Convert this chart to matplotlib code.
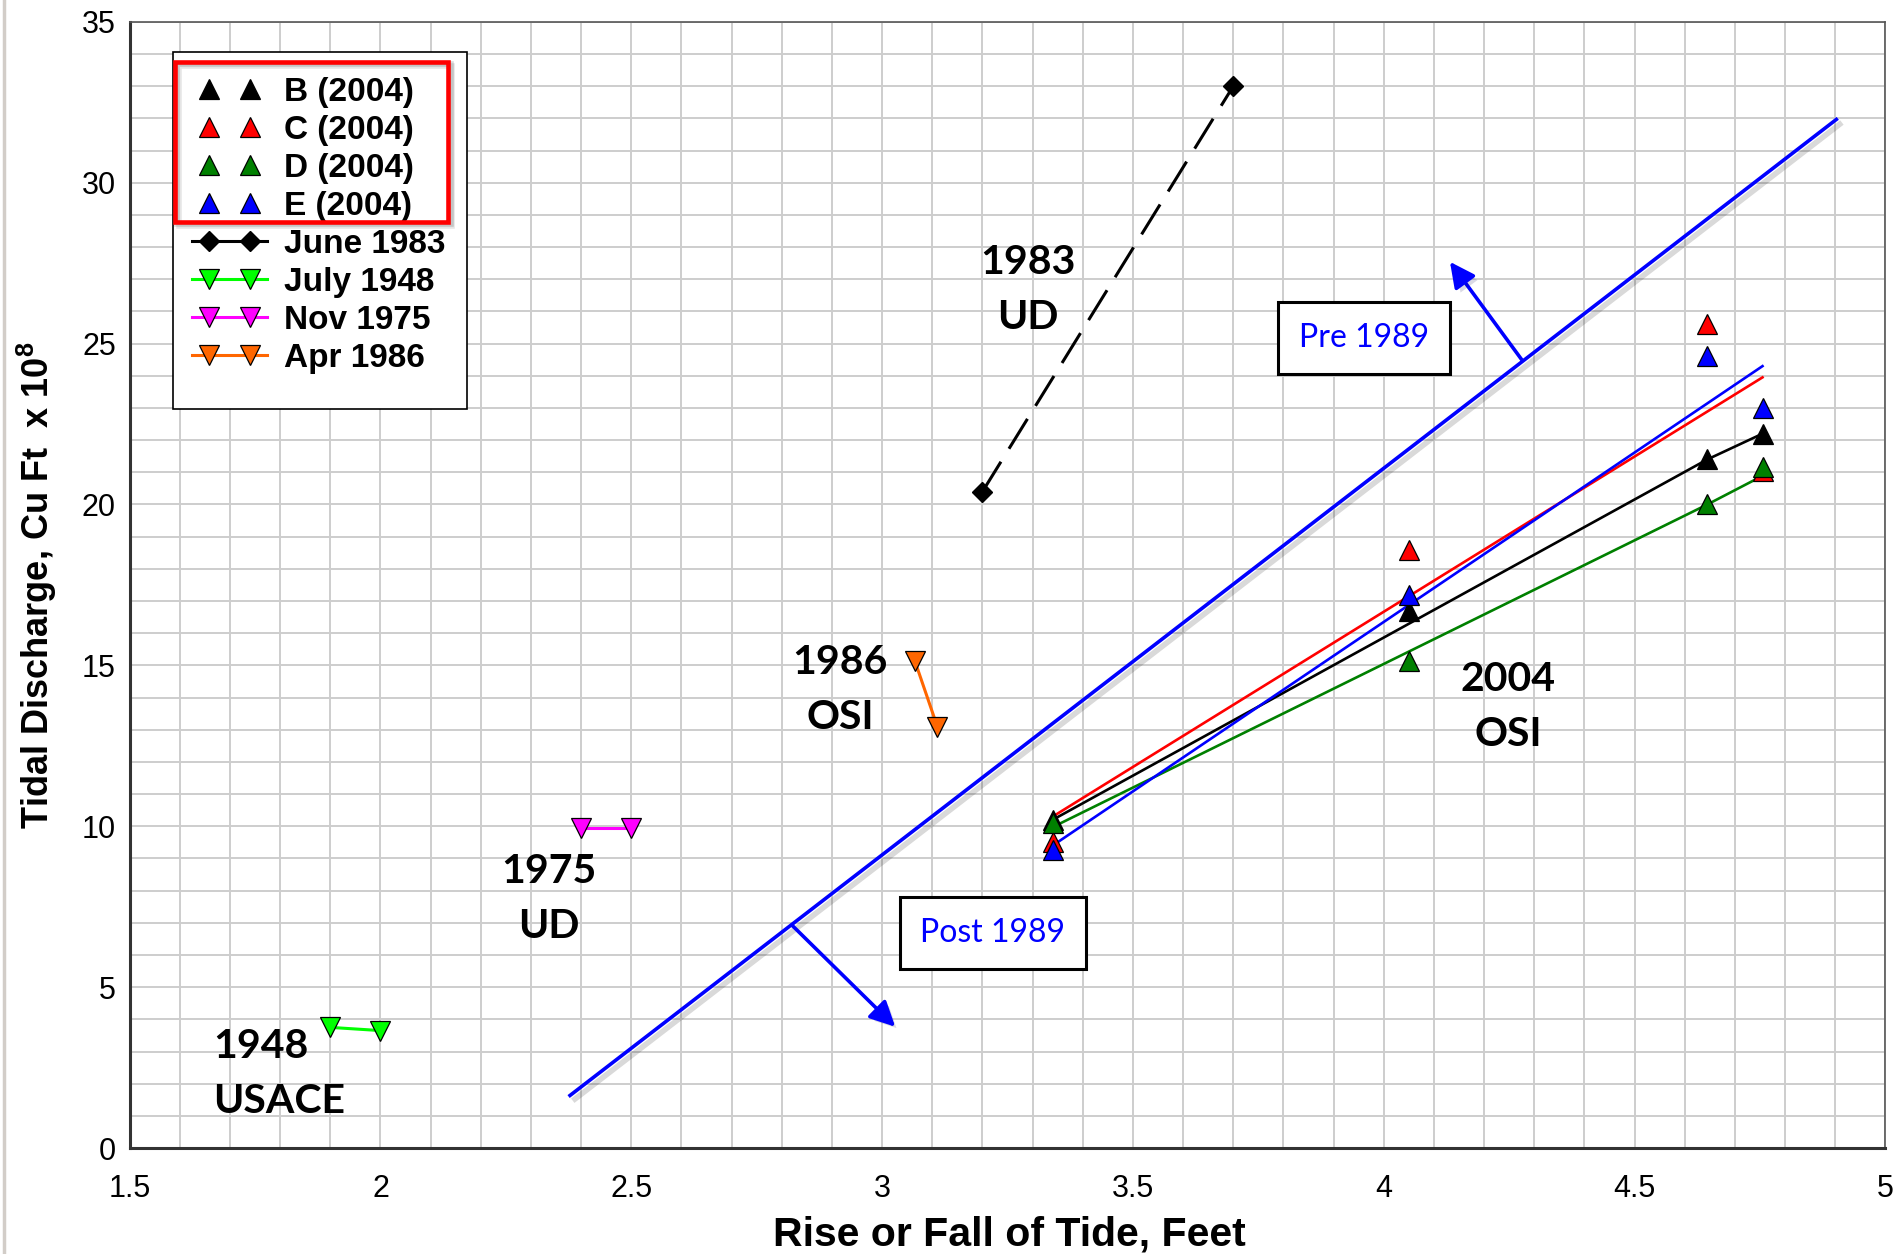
import matplotlib
matplotlib.use('Agg')
import matplotlib.pyplot as plt
from matplotlib.lines import Line2D
from matplotlib.patches import Rectangle
from matplotlib.legend_handler import HandlerLine2D
from matplotlib.ticker import MultipleLocator, FuncFormatter
import matplotlib.patheffects as pe

# ---------------- data ----------------
tide_2004 = [3.34, 4.05, 4.645, 4.755]
B_2004 = [10.2, 16.7, 21.4, 22.2]
C_2004 = [9.5, 18.6, 25.6, 21.05]
D_2004 = [10.1, 15.15, 20.0, 21.15]
E_2004 = [9.25, 17.2, 24.6, 23.0]

B_fit_x = [3.34, 4.645, 4.755]
B_fit_y = [10.2, 21.4, 22.2]
C_fit_x = [3.34, 4.755]
C_fit_y = [10.3, 23.95]
D_fit_x = [3.35, 4.645, 4.75]
D_fit_y = [10.05, 20.0, 20.85]
E_fit_x = [3.34, 4.755]
E_fit_y = [9.4, 24.3]

june1983_x = [3.2, 3.7]
june1983_y = [20.4, 33.0]
july1948_x = [1.9, 2.0]
july1948_y = [3.75, 3.65]
nov1975_x = [2.4, 2.5]
nov1975_y = [9.95, 9.95]
apr1986_x = [3.065, 3.11]
apr1986_y = [15.15, 13.1]

boundary_x = [2.375, 4.905]
boundary_y = [1.6, 32.0]

x_ticks = [1.5, 2, 2.5, 3, 3.5, 4, 4.5, 5]
y_ticks = [0, 5, 10, 15, 20, 25, 30, 35]

legend_labels = ['B (2004)', 'C (2004)', 'D (2004)', 'E (2004)',
                 'June 1983', 'July 1948', 'Nov 1975', 'Apr 1986']

# ---------------- styling ----------------
RED = '#ff0000'
BLUE = '#0000ff'
DGREEN = '#008000'
LIME = '#00ff00'
MAG = '#ff00ff'
ORANGE = '#ff6600'

plt.rcParams['mathtext.fontset'] = 'custom'
plt.rcParams['mathtext.bf'] = 'Liberation Sans:bold'
plt.rcParams['mathtext.rm'] = 'Liberation Sans:bold'

fig = plt.figure(figsize=(19.01, 12.54), dpi=100, facecolor='white')
ax = fig.add_axes([0.0682, 0.0845, 0.9236, 0.8981])
ax.set_xlim(1.5, 5)
ax.set_ylim(0, 35)

ax.xaxis.set_minor_locator(MultipleLocator(0.1))
ax.yaxis.set_minor_locator(MultipleLocator(1))
ax.set_xticks(x_ticks)
ax.set_yticks(y_ticks)
ax.xaxis.set_major_formatter(FuncFormatter(lambda v, p: '%g' % v))
ax.yaxis.set_major_formatter(FuncFormatter(lambda v, p: '%g' % v))
ax.grid(which='both', color='#cdcdcd', lw=1.4, zorder=0)
ax.set_axisbelow(True)
ax.tick_params(which='both', length=0)
ax.tick_params(axis='x', labelsize=22, pad=19)
ax.tick_params(axis='y', labelsize=22, pad=10)
for lab in ax.get_xticklabels() + ax.get_yticklabels():
    lab.set_fontfamily('Liberation Sans')
for s in ['top', 'right']:
    ax.spines[s].set_color('#555555')
    ax.spines[s].set_linewidth(1.2)
for s in ['left', 'bottom']:
    ax.spines[s].set_color('#333333')
    ax.spines[s].set_linewidth(2.2)

shadow = [pe.SimpleLineShadow(offset=(3, -3), shadow_color='black', alpha=0.15, linewidth=4),
          pe.Normal()]

# boundary line
ax.plot(boundary_x, boundary_y, color=BLUE, lw=2.6, zorder=3, path_effects=shadow,
        solid_capstyle='butt')

# arrows
arrow_kw = dict(arrowstyle='-|>', color=BLUE, lw=2.6, mutation_scale=38,
                shrinkA=0, shrinkB=0)
ax.annotate('', xy=(4.132, 27.54), xytext=(4.275, 24.5),
            arrowprops=dict(**arrow_kw,
                            path_effects=[pe.SimplePatchShadow(offset=(3, -3), alpha=0.15),
                                          pe.Normal()]), zorder=3)
ax.annotate('', xy=(3.026, 3.77), xytext=(2.820, 6.93),
            arrowprops=dict(**arrow_kw,
                            path_effects=[pe.SimplePatchShadow(offset=(3, -3), alpha=0.15),
                                          pe.Normal()]), zorder=3)

# fit lines 2004
ax.plot(B_fit_x, B_fit_y, color='black', lw=1.9, zorder=3)
ax.plot(C_fit_x, C_fit_y, color=RED, lw=1.9, zorder=3)
ax.plot(D_fit_x, D_fit_y, color=DGREEN, lw=1.9, zorder=3)
ax.plot(E_fit_x, E_fit_y, color=BLUE, lw=1.9, zorder=3)

tri_kw = dict(ls='none', marker='^', ms=15, mec='black', mew=0.9, zorder=4)
ax.plot(tide_2004, B_2004, mfc='black', **tri_kw)
ax.plot(tide_2004, C_2004, mfc=RED, **tri_kw)
ax.plot(tide_2004, D_2004, mfc=DGREEN, **tri_kw)
ax.plot(tide_2004, E_2004, mfc=BLUE, **tri_kw)

# historic
ax.plot(june1983_x, june1983_y, color='black', lw=2.2, ls=(0, (11.5, 5)),
        marker='D', ms=10, mfc='black', mec='black', zorder=4)
vkw = dict(marker='v', ms=15, mec='black', mew=0.9, lw=2.2, zorder=4)
ax.plot(july1948_x, july1948_y, color=LIME, mfc=LIME, **vkw)
ax.plot(nov1975_x, nov1975_y, color=MAG, mfc=MAG, **vkw)
ax.plot(apr1986_x, apr1986_y, color=ORANGE, mfc=ORANGE, **vkw)

# annotations
ann_kw = dict(fontsize=29.5, fontweight='bold', family='Lato', color='black',
              linespacing=1.62, zorder=6)
ax.text(3.291, 26.66, '1983\nUD', ha='center', va='center', multialignment='center', **ann_kw)
ax.text(2.916, 14.23, '1986\nOSI', ha='center', va='center', multialignment='center', **ann_kw)
ax.text(2.335, 7.74, '1975\nUD', ha='center', va='center', multialignment='center', **ann_kw)
ax.text(1.667, 2.30, '1948\nUSACE', ha='left', va='center', multialignment='left', **ann_kw)
ax.text(4.248, 13.71, '2004\nOSI', ha='center', va='center', multialignment='center', **ann_kw)

box_kw = dict(fontsize=23, family='Lato', color=BLUE, ha='center', va='center', zorder=6,
              bbox=dict(boxstyle='square,pad=0.65', fc='white', ec='black', lw=2.2))
ax.text(3.96, 25.17, 'Pre 1989', **box_kw)
ax.text(3.221, 6.68, 'Post 1989', **box_kw)

# legend
class TwoMarkerHandler(HandlerLine2D):
    def create_artists(self, legend, orig_handle, xdescent, ydescent, width, height,
                       fontsize, trans):
        x0 = -xdescent
        x3 = -xdescent + width
        pad = 0.23 * width
        xdata = [x0, x0 + pad, x3 - pad, x3]
        y = (height - ydescent) / 2
        line = Line2D(xdata, [y] * 4)
        self.update_prop(line, orig_handle, legend)
        line.set_markevery([1, 2])
        line.set_transform(trans)
        return [line]

h_kw = dict(marker='^', ms=15, mec='black', mew=0.9, ls='none')
handles = [
    Line2D([], [], mfc='black', **h_kw),
    Line2D([], [], mfc=RED, **h_kw),
    Line2D([], [], mfc=DGREEN, **h_kw),
    Line2D([], [], mfc=BLUE, **h_kw),
    Line2D([], [], color='black', lw=2.2, marker='D', ms=10, mfc='black', mec='black'),
    Line2D([], [], color=LIME, lw=2.2, marker='v', ms=15, mfc=LIME, mec='black', mew=0.9),
    Line2D([], [], color=MAG, lw=2.2, marker='v', ms=15, mfc=MAG, mec='black', mew=0.9),
    Line2D([], [], color=ORANGE, lw=2.2, marker='v', ms=15, mfc=ORANGE, mec='black', mew=0.9),
]

frame = Rectangle((0.02466, 0.6562), 0.1675, 0.317, transform=ax.transAxes,
                  fc='white', ec='black', lw=1.2, zorder=5)
ax.add_patch(frame)
leg = ax.legend(handles, legend_labels, loc='upper left',
                bbox_to_anchor=((192 - 129.7) / 1755.7, (1148 - 77) / 1126.2),
                borderaxespad=0, borderpad=0, frameon=False,
                prop={'family': 'Liberation Sans', 'weight': 'bold', 'size': 24},
                handlelength=2.26, handletextpad=0.5, labelspacing=0.21,
                handler_map={Line2D: TwoMarkerHandler()})
leg.set_zorder(7)

# red highlight box with soft shadow
for off, a in [(4, 0.10), (2.5, 0.14)]:
    sh = Rectangle((0.0258 + off / 1755.7, 0.8225 - off / 1126.2), 0.1557, 0.1421,
                   transform=ax.transAxes, fc='none', ec='black', alpha=a, lw=4, zorder=7.5)
    ax.add_patch(sh)
red_box = Rectangle((0.0258, 0.8225), 0.1557, 0.1421, transform=ax.transAxes,
                    fc='none', ec=RED, lw=3.3, zorder=8)
ax.add_patch(red_box)

# axis labels
fig.text(1009 / 1901, 1 - 1235 / 1254, 'Rise or Fall of Tide, Feet', ha='center', va='center',
         fontsize=29.5, fontweight='bold', family='Liberation Sans')
fig.text(37 / 1901, 1 - 585 / 1254, r'Tidal Discharge, Cu Ft  x 10$^{\mathrm{8}}$', ha='center',
         va='center', rotation=90, fontsize=26, fontweight='bold', family='Liberation Sans')

# page edge line at the left
fig.add_artist(Line2D([3.5 / 1901, 3.5 / 1901], [0, 1], transform=fig.transFigure,
                      color='#d2cdc8', lw=2.5))

fig.savefig('out.png', dpi=100, facecolor='white')
